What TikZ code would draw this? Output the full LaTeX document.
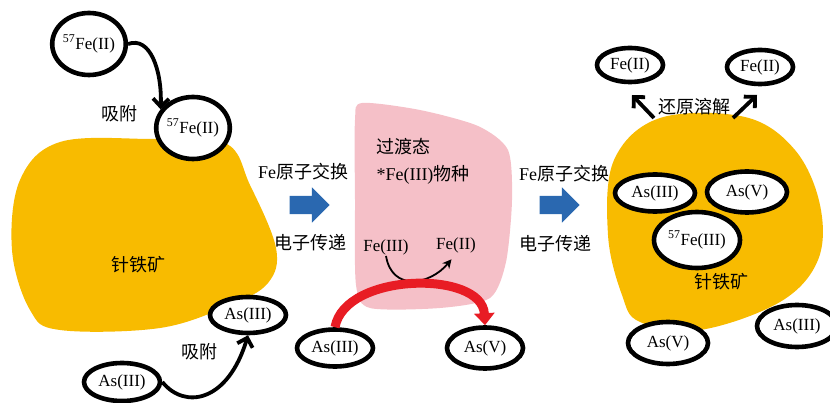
\documentclass[tikz,border=0pt]{standalone}
\usepackage{fontspec}
\setmainfont{Liberation Serif}
\newfontfamily\cjk{Noto Sans CJK SC}
\usetikzlibrary{shapes.geometric,shapes.arrows,arrows.meta}

\definecolor{goethite}{RGB}{248,187,0}
\definecolor{transpink}{RGB}{245,192,200}
\definecolor{flowblue}{RGB}{42,104,176}
\definecolor{redox}{RGB}{232,28,36}

\begin{document}
\begin{tikzpicture}[x=1pt, y=-1pt,
        species/.style={draw, ellipse, line width=4.6pt, fill=white, inner sep=0pt, font=\fontsize{17}{17}\selectfont},
        chem/.style={inner sep=1pt, font=\fontsize{17}{17}\selectfont},
        txt/.style={inner sep=1pt, font=\cjk\fontsize{18}{18}\selectfont},
        hop/.style={line width=3.8pt, -{Straight Barb[length=8pt,width=16pt]}},
        flow/.style={single arrow, fill=flowblue, inner xsep=0pt, inner ysep=9pt, minimum height=40pt, single arrow head extend=8.5pt}]
        \useasboundingbox (0,0) rectangle (830,403);

        % goethite and transition state
        \fill[goethite] plot[smooth cycle, tension=0.6] coordinates {(60,142) (150,139) (225,143) (250,185) (276,248) (268,283) (230,305) (160,328) (60,330) (30,310) (12,250) (20,180)};
        \fill[goethite] plot[smooth cycle, tension=0.6] coordinates {(660,118) (745,117) (795,150) (820,205) (818,260) (780,302) (700,330) (640,322) (622,295) (608,235) (614,160)};
        \fill[transpink] plot[smooth cycle, tension=0.45] coordinates {(362,103) (420,110) (478,126) (508,150) (512,200) (506,262) (490,298) (440,308) (370,308) (356,285) (355,200) (355,120)};

        % left: adsorption
        \node[species, minimum width=72pt, minimum height=62pt] (fea) at (89,44) {\textsuperscript{57}Fe(II)};
        \node[species, minimum width=72pt, minimum height=62pt] (feb) at (193,128) {\textsuperscript{57}Fe(II)};
        \node[txt] (adsa) at (119,114) {吸附};
        \node[txt] (gtl) at (138,265) {针铁矿};
        \node[species, minimum width=76pt, minimum height=36pt] (asb) at (248,315) {As(III)};
        \node[species, minimum width=76pt, minimum height=38pt] (asl) at (122,382) {As(III)};
        \node[txt] (adsb) at (199,352) {吸附};

        \draw[hop] (fea.east) .. controls (150,36) and (162,70) .. (feb.150);
        \draw[hop] (asl.east) .. controls (185,410) and (228,402) .. (asb.south);

        % exchange steps
        \node[flow] (exa) at (305,205) {};
        \node[txt] (swapa) at (303,172) {\textrm{Fe}原子交换};
        \node[txt] (eta) at (310,243) {电子传递};
        \node[flow] (exb) at (555,205) {};
        \node[txt] (swapb) at (564,174) {\textrm{Fe}原子交换};
        \node[txt] (etb) at (555,244) {电子传递};

        % transition state
        \node[txt] (ts) at (403,147) {过渡态};
        \node[txt] (star) at (423,175) {\textrm{*Fe(III)}物种};
        \node[chem] (fe3) at (386,247) {Fe(III)};
        \node[chem] (fe2) at (456,245) {Fe(II)};
        \draw[line width=1.8pt, -{Stealth[length=9pt,width=9pt]}, shorten >=7pt] (fe3.south) .. controls (392,292) and (430,285) .. (fe2.south);

        \node[species, minimum width=76pt, minimum height=37pt] (asm) at (335,348) {As(III)};
        \node[species, minimum width=76pt, minimum height=41pt] (asv) at (485,348) {As(V)};
        \draw[redox, line width=9pt, -{Triangle[length=12pt,width=20pt]}] (asm.north) .. controls (345,272) and (482,270) .. (asv.north);

        % right: reductive dissolution
        \node[species, minimum width=66pt, minimum height=34pt] (fe2a) at (630,65) {Fe(II)};
        \node[species, minimum width=66pt, minimum height=34pt] (fe2b) at (760,67) {Fe(II)};
        \node[txt] (redis) at (694,107) {还原溶解};
        \coordinate (ta) at (654,118);
        \coordinate (ua) at (632,95);
        \coordinate (tb) at (733,118);
        \coordinate (ub) at (757,95);
        \draw[hop] (ta) -- (ua);
        \draw[hop] (tb) -- (ub);

        \node[species, minimum width=80pt, minimum height=37pt] (asr) at (655,193) {As(III)};
        \node[species, minimum width=80pt, minimum height=41pt] (asrv) at (747,192) {As(V)};
        \node[species, minimum width=86pt, minimum height=56pt] (fec) at (697,240) {\textsuperscript{57}Fe(III)};
        \node[txt] (gtr) at (721,282) {针铁矿};
        \node[species, minimum width=80pt, minimum height=42pt] (asvo) at (668,343) {As(V)};
        \node[species, minimum width=80pt, minimum height=42pt] (aso) at (797,326) {As(III)};
    \end{tikzpicture}
\end{document}
